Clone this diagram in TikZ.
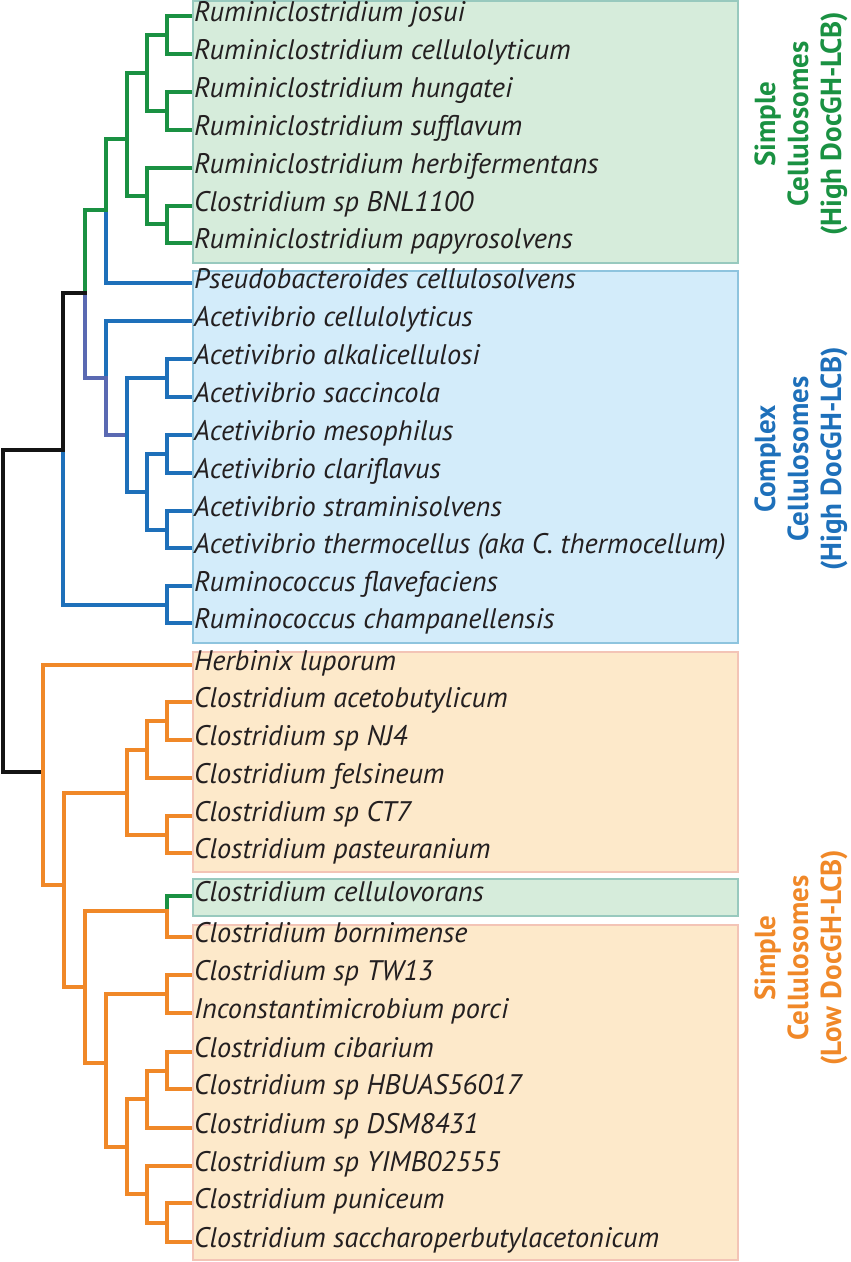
\documentclass[tikz,border=0pt]{standalone}
\usepackage{fontspec}
\setmainfont{PT Sans}
\definecolor{lgreen}{RGB}{26,145,66}
\definecolor{lblue}{RGB}{30,112,186}
\definecolor{lpurple}{RGB}{90,105,178}
\definecolor{lorange}{RGB}{240,136,40}
\definecolor{lblack}{RGB}{20,20,20}
\definecolor{txt}{RGB}{35,31,32}
\definecolor{gfill}{RGB}{214,236,219}
\definecolor{gline}{RGB}{152,201,190}
\definecolor{bfill}{RGB}{211,236,250}
\definecolor{bline}{RGB}{142,196,222}
\definecolor{ofill}{RGB}{253,233,202}
\definecolor{oline}{RGB}{243,196,182}
\tikzset{
  leaf/.style={anchor=west,inner xsep=4pt,inner ysep=0pt,text height=18pt,text depth=8pt,font=\fontsize{28.3}{32}\selectfont\itshape,text=txt},
  br/.style={line width=3.2pt,line cap=rect},
  gbr/.style={br,lgreen},
  bbr/.style={br,lblue},
  pbr/.style={br,lpurple},
  obr/.style={br,lorange},
  kbr/.style={br,lblack},
  gbox/.style={fill=gfill,draw=gline,line width=1.4pt},
  bbox/.style={fill=bfill,draw=bline,line width=1.4pt},
  obox/.style={fill=ofill,draw=oline,line width=1.4pt},
  grp/.style={rotate=90,align=center,font=\fontsize{29}{33}\selectfont\bfseries,inner sep=0pt}
}
\begin{document}
\begin{tikzpicture}[x=1pt,y=-1pt]
\useasboundingbox (0,0) rectangle (851,1262);
% boxes
\path[gbox] (193,1) rectangle (738,263);
\path[bbox] (193,271) rectangle (738,643);
\path[obox] (193,652) rectangle (738,872);
\path[gbox] (193,879) rectangle (738,916);
\path[obox] (193,925) rectangle (738,1260);
% leaves
\node[leaf] (l1) at (190,16) {Ruminiclostridium josui};
\node[leaf] (l2) at (190,54) {Ruminiclostridium cellulolyticum};
\node[leaf] (l3) at (190,92) {Ruminiclostridium hungatei};
\node[leaf] (l4) at (190,130) {Ruminiclostridium sufflavum};
\node[leaf] (l5) at (190,168) {Ruminiclostridium herbifermentans};
\node[leaf] (l6) at (190,206) {Clostridium sp BNL1100};
\node[leaf] (l7) at (190,243) {Ruminiclostridium papyrosolvens};
\node[leaf] (l8) at (190,283) {Pseudobacteroides cellulosolvens};
\node[leaf] (l9) at (190,321) {Acetivibrio cellulolyticus};
\node[leaf] (l10) at (190,359) {Acetivibrio alkalicellulosi};
\node[leaf] (l11) at (190,397) {Acetivibrio saccincola};
\node[leaf] (l12) at (190,435) {Acetivibrio mesophilus};
\node[leaf] (l13) at (190,473) {Acetivibrio clariflavus};
\node[leaf] (l14) at (190,511) {Acetivibrio straminisolvens};
\node[leaf] (l15) at (190,548) {Acetivibrio thermocellus (aka C. thermocellum)};
\node[leaf] (l16) at (190,586) {Ruminococcus flavefaciens};
\node[leaf] (l17) at (190,623) {Ruminococcus champanellensis};
\node[leaf] (l18) at (190,665) {Herbinix luporum};
\node[leaf] (l19) at (190,702) {Clostridium acetobutylicum};
\node[leaf] (l20) at (190,740) {Clostridium sp NJ4};
\node[leaf] (l21) at (190,778) {Clostridium felsineum};
\node[leaf] (l22) at (190,816) {Clostridium sp CT7};
\node[leaf] (l23) at (190,853) {Clostridium pasteuranium};
\node[leaf] (l24) at (190,896) {Clostridium cellulovorans};
\node[leaf] (l25) at (190,937) {Clostridium bornimense};
\node[leaf] (l26) at (190,975) {Clostridium sp TW13};
\node[leaf] (l27) at (190,1013) {Inconstantimicrobium porci};
\node[leaf] (l28) at (190,1052) {Clostridium cibarium};
\node[leaf] (l29) at (190,1089) {Clostridium sp HBUAS56017};
\node[leaf] (l30) at (190,1128) {Clostridium sp DSM8431};
\node[leaf] (l31) at (190,1166) {Clostridium sp YIMB02555};
\node[leaf] (l32) at (190,1203) {Clostridium puniceum};
\node[leaf] (l33) at (190,1242) {Clostridium saccharoperbutylacetonicum};
% internal nodes
\coordinate (g1) at (167,35);
\coordinate (g2) at (167,111);
\coordinate (g3) at (147,73);
\coordinate (g4) at (167,224);
\coordinate (g5) at (147,196);
\coordinate (g6) at (127,139);
\coordinate (g7) at (106,210);
\coordinate (top) at (85,293);
\coordinate (b2) at (106,378);
\coordinate (b3) at (127,435);
\coordinate (b4) at (167,378);
\coordinate (b5) at (147,492);
\coordinate (b6) at (167,454);
\coordinate (b7) at (167,530);
\coordinate (b8) at (167,605);
\coordinate (mid) at (63,450);
\coordinate (root) at (3,611);
\coordinate (o1) at (43,772);
\coordinate (o2) at (64,885);
\coordinate (o3) at (127,793);
\coordinate (o4) at (147,750);
\coordinate (o5) at (167,721);
\coordinate (o6) at (167,835);
\coordinate (o7) at (85,987);
\coordinate (o8) at (167,911);
\coordinate (o9) at (106,1063);
\coordinate (o10) at (167,994);
\coordinate (o11) at (127,1147);
\coordinate (o12) at (147,1099);
\coordinate (o13) at (147,1194);
\coordinate (o14) at (167,1071);
\coordinate (o15) at (167,1223);
% green clade
\draw[gbr] (g1) |- (l1.west) (g1) |- (l2.west);
\draw[gbr] (g2) |- (l3.west) (g2) |- (l4.west);
\draw[gbr] (g3) |- (g1) (g3) |- (g2);
\draw[gbr] (g4) |- (l6.west) (g4) |- (l7.west);
\draw[gbr] (g5) |- (l5.west) (g5) |- (g4);
\draw[gbr] (g6) |- (g3) (g6) |- (g5);
\draw[gbr] (g7) |- (g6);
\draw[bbr] (g7) |- (l8.west);
\draw[gbr] (top) |- (g7);
% blue clade
\draw[pbr] (top) |- (b2);
\draw[bbr] (b2) |- (l9.west);
\draw[pbr] (b2) |- (b3);
\draw[bbr] (b3) |- (b4) (b3) |- (b5);
\draw[bbr] (b4) |- (l10.west) (b4) |- (l11.west);
\draw[bbr] (b5) |- (b6) (b5) |- (b7);
\draw[bbr] (b6) |- (l12.west) (b6) |- (l13.west);
\draw[bbr] (b7) |- (l14.west) (b7) |- (l15.west);
\draw[bbr] (b8) |- (l16.west) (b8) |- (l17.west);
\draw[bbr] (mid) |- (b8);
\draw[kbr] (mid) |- (top);
\draw[kbr] (root) |- (mid) (root) |- (o1);
% orange clade
\draw[obr] (o1) |- (l18.west) (o1) |- (o2);
\draw[obr] (o2) |- (o3) (o2) |- (o7);
\draw[obr] (o3) |- (o4) (o3) |- (o6);
\draw[obr] (o4) |- (o5) (o4) |- (l21.west);
\draw[obr] (o5) |- (l19.west) (o5) |- (l20.west);
\draw[obr] (o6) |- (l22.west) (o6) |- (l23.west);
\draw[obr] (o7) |- (o8) (o7) |- (o9);
\draw[gbr] (o8) |- (l24.west);
\draw[obr] (o8) |- (l25.west);
\draw[obr] (o9) |- (o10) (o9) |- (o11);
\draw[obr] (o10) |- (l26.west) (o10) |- (l27.west);
\draw[obr] (o11) |- (o12) (o11) |- (o13);
\draw[obr] (o12) |- (o14) (o12) |- (l30.west);
\draw[obr] (o14) |- (l28.west) (o14) |- (l29.west);
\draw[obr] (o13) |- (l31.west) (o13) |- (o15);
\draw[obr] (o15) |- (l32.west) (o15) |- (l33.west);
% group labels
\node[grp,text=lgreen] (t1) at (801,124) {Simple\\Cellulosomes\\(High DocGH-LCB)};
\node[grp,text=lblue] (t2) at (801,459) {Complex\\Cellulosomes\\(High DocGH-LCB)};
\node[grp,text=lorange] (t3) at (801,958) {Simple\\Cellulosomes\\(Low DocGH-LCB)};
\end{tikzpicture}
\end{document}
